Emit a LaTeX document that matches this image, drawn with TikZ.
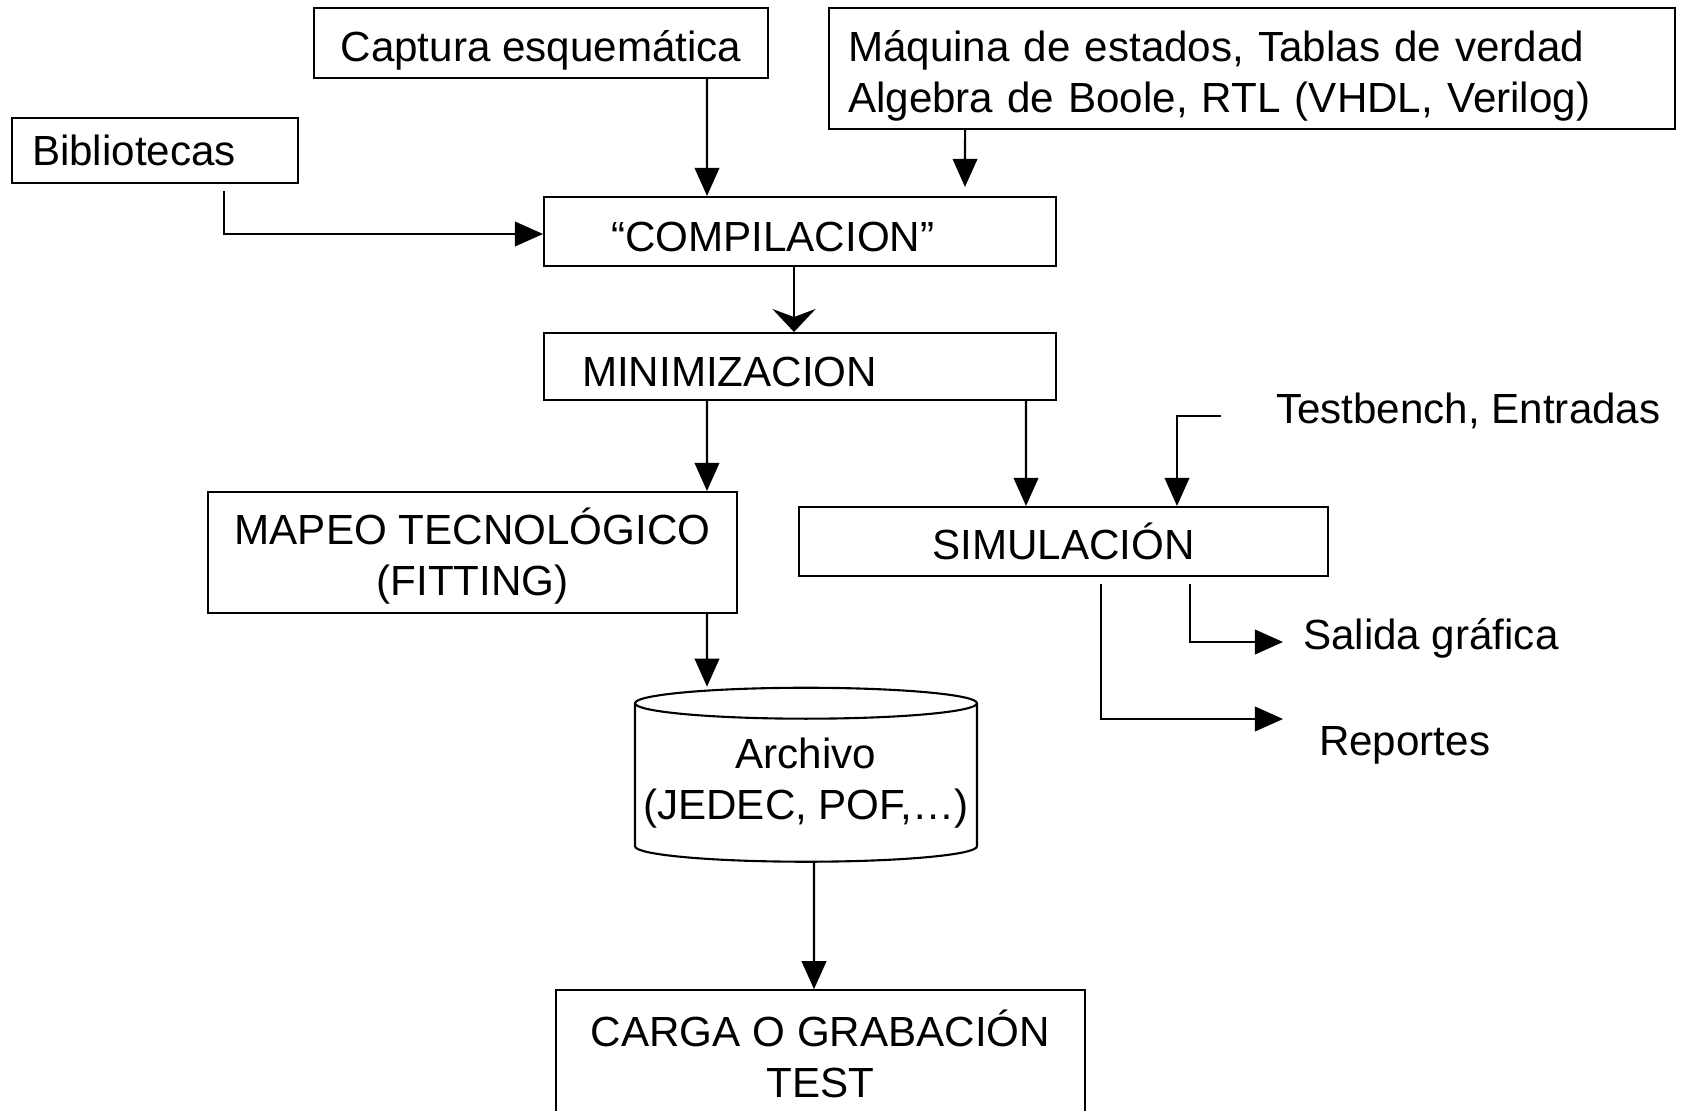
\documentclass[tikz,border=0pt]{standalone}
\usepackage{fontspec}
\setmainfont{Liberation Sans}
\usetikzlibrary{positioning,shapes.geometric,arrows.meta}

\begin{document}
\begin{tikzpicture}[
      x=0.02cm, y=-0.02cm,
      nodes={font=\fontsize{24}{29}\selectfont},
      box/.style={draw, line width=1.2pt, inner sep=0pt},
      lowtext/.style={text height=23pt, text depth=0pt},
      line width=1.2pt, >={Triangle[length=16pt,width=14pt]}
      ]
      \useasboundingbox (0,0) rectangle (1683,1111);

      \node[box, lowtext, text width=7.56cm, inner xsep=1.34cm, minimum height=1.38cm, align=left] (comp) at (800,231.5) {“COMPILACION”};
      \node[box, lowtext, below=1.3cm of comp, text width=8.72cm, inner xsep=0.76cm, minimum height=1.34cm, align=left] (mini) {MINIMIZACION};
      \node[box, lowtext, text height=20.6pt, minimum width=9.08cm, minimum height=1.4cm] (capt) at (541,43) {Captura esquemática};
      \node[box, text height=26.4pt, text width=16.16cm, inner xsep=0.38cm, minimum height=2.42cm, align=left] (maq) at (1252,68.5) {Máquina de estados, Tablas de verdad\\Algebra de Boole, RTL (VHDL, Verilog)};
      \node[box, text width=4.92cm, inner xsep=0.4cm, minimum height=1.3cm, align=left] (bib) at (155,150.5) {Bibliotecas};
      \node[box, text depth=1pt, minimum width=10.58cm, minimum height=2.42cm, align=center] (mapeo) at (472.5,552.5) {MAPEO TECNOLÓGICO\\(FITTING)};
      \node[box, minimum width=10.58cm, minimum height=1.38cm] (sim) at (1063.5,541.5) {SIMULACIÓN};
      \node[draw, cylinder, shape border rotate=90, aspect=0.095, minimum width=6.84cm, minimum height=3.48cm, inner sep=0pt, align=center] (arch) at (806,783) {Archivo\\(JEDEC, POF,…)};
      \node[box, below=2.53cm of arch, xshift=0.29cm, minimum width=10.58cm, minimum height=2.54cm, align=center] (carga) {CARGA O GRABACIÓN\\TEST};

      \node[inner sep=0pt, anchor=west] (test) at (1275,411) {Testbench, Entradas};
      \node[inner sep=0pt, anchor=west] (sal) at (1302,638) {Salida gráfica};
      \node[inner sep=0pt, anchor=west] (rep) at (1318,745) {Reportes};

  % Connect the nodes
  \draw[->] ([xshift=3.32cm]capt.south) -- ([xshift=-1.86cm]comp.north);
  \draw[->] ([xshift=-5.74cm]maq.south) -- ([xshift=3.3cm,yshift=0.18cm]comp.north);
  \draw[->] ([xshift=1.38cm,yshift=-0.14cm]bib.south) |- ([yshift=-0.05cm]comp.west);
  \draw[-{Stealth[length=0.46cm,width=0.86cm,inset=0.16cm]}] ([xshift=-0.12cm]comp.south) -- ([xshift=-0.12cm]mini.north);
  \draw[->] ([xshift=-1.86cm]mini.south) -- ([xshift=4.69cm]mapeo.north);
  \draw[->] ([xshift=4.52cm]mini.south) -- ([xshift=-0.75cm]sim.north);
  \draw[->] ([xshift=-1.08cm,yshift=-0.1cm]test.west) -| ([xshift=2.27cm]sim.north);
  \draw[->] ([xshift=2.53cm,yshift=-0.14cm]sim.south) |- ([xshift=-0.38cm,yshift=-0.08cm]sal.west);
  \draw[->] ([xshift=0.75cm,yshift=-0.14cm]sim.south) |- ([xshift=-0.7cm,yshift=0.52cm]rep.west);
  \draw[->] ([xshift=4.69cm]mapeo.south) -- ([xshift=-1.98cm]arch.north);
  \draw[->] ([xshift=0.16cm]arch.south) -- ([xshift=-0.13cm]carga.north);

\end{tikzpicture}
\end{document}
